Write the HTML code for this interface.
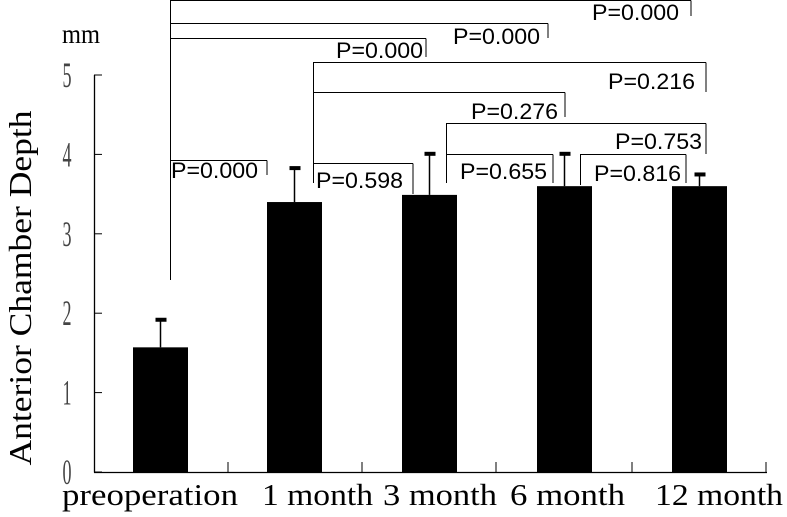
<!DOCTYPE html>
<html><head><meta charset="utf-8"><style>
html,body{margin:0;padding:0;background:#fff;}
svg{display:block;}
text{font-family:"Liberation Serif",serif;}
.p{font-family:"Liberation Sans",sans-serif;font-size:22px;}
</style></head><body>
<svg id="chart" width="787" height="517" viewBox="0 0 787 517">
<g id="marks"></g>
</svg>
<script>
const categories = ["preoperation","1 month","3 month","6 month","12 month"];
const means = [1.57, 3.40, 3.49, 3.60, 3.60];
const errors = [0.36, 0.44, 0.53, 0.42, 0.16];
const yTicks = [0,1,2,3,4,5];
const labelX = [62, 262, 383, 510, 655];
const labelW = [176, 111, 114, 115, 128];
const pLabels = ["P=0.000","P=0.000","P=0.000","P=0.216","P=0.276","P=0.753","P=0.655","P=0.816","P=0.598","P=0.000"];

const NS="http://www.w3.org/2000/svg";
const g=document.getElementById('marks');
const y0=472, unit=79.4;
function yS(v){return y0-v*unit;}
const barL=[133,267,402,537,672], barW=55;
function xC(i){return barL[i]+barW/2;}
function el(tag,attrs,parent){const e=document.createElementNS(NS,tag);for(const k in attrs)e.setAttribute(k,attrs[k]);(parent||g).appendChild(e);return e;}

let a=el('line',{x1:94.5,y1:yS(5),x2:94.5,y2:y0+0.5,stroke:'#000','stroke-width':1.3});


a=el('line',{x1:94,y1:y0+0.5,x2:767,y2:y0+0.5,stroke:'#000','stroke-width':1.3});


yTicks.forEach(t=>{
  const y=yS(t);
  const tk=el('line',{x1:94,y1:y,x2:102,y2:y,stroke:'#000','stroke-width':1});
  
  
  const tx=el('text',{x:0,y:0,'font-size':36,fill:'#444',transform:`translate(67,${y+12}) scale(0.5,1)`,'text-anchor':'middle'});
  tx.textContent=t;
  
  
});
[228,362,496,632,766].forEach(x=>{
  const tk=el('line',{x1:x,y1:y0,x2:x,y2:y0-10,stroke:'#000','stroke-width':1});
  
  
});
categories.forEach((c,i)=>{
  const b=el('rect',{x:barL[i],y:yS(means[i]),width:barW,height:y0-yS(means[i]),fill:'#000'});
  
  
  const top=yS(means[i]+errors[i]);
  const e=el('line',{x1:xC(i),y1:yS(means[i]),x2:xC(i),y2:top,stroke:'#000','stroke-width':1.5});
  
  
  const cap=el('rect',{x:xC(i)-5,y:top-1,width:11,height:4,fill:'#000'});
  
  
  const t=el('text',{x:labelX[i],y:505,'font-size':31,textLength:labelW[i],lengthAdjust:'spacingAndGlyphs'});
  t.textContent=c;
  
  
});
const lines=[
 [170,0.5,691,0.5],[691,0.5,691,16],
 [170,23.5,548,23.5],[548,23.5,548,38],
 [170,38.5,426,38.5],[426,38.5,426,57],
 [170.5,0,170.5,280],
 [313,62.5,706,62.5],[706,62.5,706,92],
 [313,92.5,565,92.5],[565,92.5,565,117],
 [313.5,62,313.5,183],
 [446,123.5,706,123.5],[706,123.5,706,154],
 [446.5,123,446.5,183],
 [446,154.5,553,154.5],[553,154.5,553,183],
 [580.5,154,580.5,185],[580,154.5,686,154.5],[686,154.5,686,183],
 [313,163.5,413,163.5],[413,163.5,413,194],
 [170,160.5,267,160.5],[267,160.5,267,175]
];
lines.forEach(l=>{
  const e=el('line',{x1:l[0],y1:l[1],x2:l[2],y2:l[3],stroke:'#000','stroke-width':1});
  
  
});
const pPos=[[592,20],[453,44],[336,58],[608,89],[471,119],[615,149],[460,179],[594,181],[316,188],[171,178]];
pLabels.forEach((s,i)=>{
  const t=el('text',{x:pPos[i][0],y:pPos[i][1],class:'p',textLength:87,lengthAdjust:'spacingAndGlyphs'});
  t.textContent=s;
  
  
});
let t=el('text',{x:62,y:43,'font-size':27,textLength:38,lengthAdjust:'spacingAndGlyphs'});
t.textContent='mm';


t=el('text',{x:0,y:0,'font-size':32,'text-anchor':'middle',transform:'translate(31,288) rotate(-90)',textLength:355,lengthAdjust:'spacingAndGlyphs'});
t.textContent='Anterior Chamber Depth';


</script>
</body></html>
